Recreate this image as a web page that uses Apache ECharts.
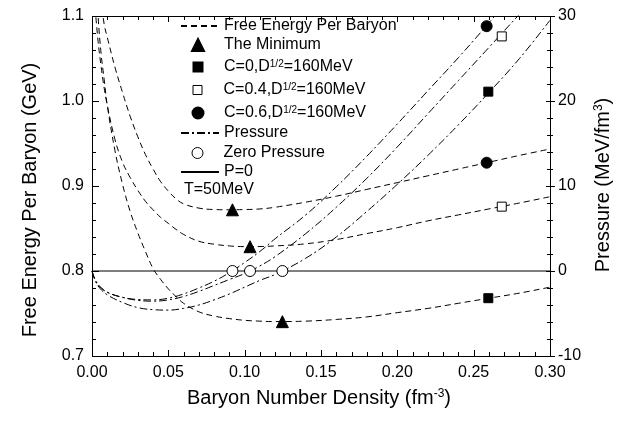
<!DOCTYPE html>
<html>
<head>
<meta charset="utf-8">
<script src="https://cdn.jsdelivr.net/npm/echarts@6/dist/echarts.min.js"></script>
<style>
  html, body { margin: 0; padding: 0; background: #fff; }
  #chart { width: 633px; height: 423px; }
</style>
</head>
<body>
<div id="chart"></div>
<script>
// Baryon density grid (fm^-3) for the free-energy curves
const energyDensity = [0.002, 0.004, 0.006, 0.008, 0.01, 0.015, 0.02, 0.025, 0.03, 0.035,
  0.04, 0.045, 0.05, 0.055, 0.06, 0.07, 0.08, 0.09, 0.10, 0.11,
  0.12, 0.14, 0.16, 0.18, 0.20, 0.22, 0.24, 0.26, 0.28, 0.30];

// Free energy per baryon (GeV)
const energyC0 = [1.18, 1.10, 1.055, 1.025, 0.995, 0.942, 0.902, 0.870, 0.845, 0.823,
  0.803, 0.790, 0.779, 0.770, 0.762, 0.752, 0.747, 0.744, 0.742, 0.741,
  0.7405, 0.741, 0.743, 0.746, 0.751, 0.756, 0.762, 0.768, 0.774, 0.781];
const energyC04 = [1.11, 1.07, 1.04, 1.015, 0.995, 0.955, 0.928, 0.910, 0.895, 0.882,
  0.872, 0.863, 0.856, 0.849, 0.843, 0.835, 0.8315, 0.8295, 0.8287, 0.8288,
  0.8295, 0.832, 0.837, 0.844, 0.851, 0.859, 0.866, 0.873, 0.880, 0.8874];
const energyC06 = [1.25, 1.16, 1.12, 1.09, 1.075, 1.04, 1.01, 0.982, 0.958, 0.937,
  0.920, 0.905, 0.894, 0.885, 0.879, 0.874, 0.8723, 0.872, 0.8723, 0.873,
  0.875, 0.881, 0.888, 0.896, 0.904, 0.912, 0.920, 0.928, 0.936, 0.9435];

// Baryon density grid (fm^-3) for the pressure curves
const pressureDensity = [0, 0.002, 0.005, 0.01, 0.02, 0.03, 0.04, 0.05, 0.06, 0.07,
  0.08, 0.09, 0.10, 0.11, 0.12, 0.14, 0.16, 0.18, 0.20, 0.22, 0.24, 0.26, 0.28, 0.30];

// Pressure (MeV/fm^3)
const pressureC0 = [0, -1.1, -2.0, -2.8, -3.7, -4.3, -4.55, -4.6, -4.4, -4.0,
  -3.4, -2.7, -1.9, -1.1, -0.4, 1.5, 4.0, 7.0, 10.2, 13.6, 17.2, 21.0, 25.0, 29.5];
const pressureC04 = [0, -1.0, -1.8, -2.5, -3.1, -3.45, -3.55, -3.4, -3.0, -2.4,
  -1.7, -1.0, -0.3, 0.6, 1.7, 4.4, 7.5, 10.9, 14.6, 18.5, 22.4, 26.3, 30.2, 34.0];
const pressureC06 = [0, -1.0, -1.8, -2.5, -3.1, -3.35, -3.4, -3.2, -2.7, -2.0,
  -1.2, -0.2, 1.0, 2.3, 3.8, 6.6, 9.9, 13.5, 17.3, 21.2, 25.1, 29.2, 33.5, 38.0];

// Minimum of each free-energy curve (same densities as the zero-pressure points)
const minimumDensity = [0.092, 0.1035, 0.1247];
const minimumEnergy = [0.872, 0.8286, 0.7404];
const zeroPressure = [0, 0, 0];

// Curve labels placed at high density: [density, energy, pressure]
const labelC0 = [0.2596, 0.768, 21.1];
const labelC04 = [0.2684, 0.8757, 27.6];
const labelC06 = [0.2585, 0.9274, 28.8];

// Axis ranges and tick spacing (major step, minor divisions)
const densityRange = [0, 0.30];
const energyRange = [0.7, 1.1];
const pressureRange = [-10, 30];
const densityStep = 0.05;
const energyStep = 0.1;
const pressureStep = 10;
const minorDivisions = 5;

const names = {
  energy: 'Free Energy Per Baryon',
  minimum: 'The Minimum',
  c0: 'C=0,D1/2=160MeV',
  c04: 'C=0.4,D1/2=160MeV',
  c06: 'C=0.6,D1/2=160MeV',
  pressure: 'Pressure',
  zero: 'Zero Pressure',
  p0: 'P=0'
};

const FONT = '"Liberation Sans", Arial, Helvetica, sans-serif';
const BLACK = '#000';
const DASH = [6, 4];
const DASH_DOT = [8, 3, 2, 3];

const zip = (xs, ys) => xs.map((x, i) => [x, ys[i]]);

// Tick positions along an axis: [value, isMajor]
function tickValues(range, step) {
  const minor = step / minorDivisions;
  const count = Math.round((range[1] - range[0]) / minor);
  const out = [];
  for (let i = 0; i <= count; i++) {
    out.push([+(range[0] + i * minor).toFixed(6), i % minorDivisions === 0 ? 1 : 0]);
  }
  return out;
}

function energyLine(values) {
  return {
    name: names.energy, type: 'line', yAxisIndex: 0, data: zip(energyDensity, values),
    symbol: 'none', smooth: 0.4, clip: true,
    lineStyle: { color: BLACK, width: 1, type: DASH }, itemStyle: { color: BLACK }, z: 3
  };
}
function pressureLine(values) {
  return {
    name: names.pressure, type: 'line', yAxisIndex: 1, data: zip(pressureDensity, values),
    symbol: 'none', smooth: 0.4, clip: true,
    lineStyle: { color: BLACK, width: 1, type: DASH_DOT }, itemStyle: { color: BLACK }, z: 3
  };
}
function marker(name, axis, points, symbol, size, filled) {
  return {
    name, type: 'scatter', yAxisIndex: axis, data: points, symbol, symbolSize: size,
    itemStyle: { color: filled ? BLACK : '#fff', borderColor: BLACK, borderWidth: 1, opacity: 1 }, z: 5
  };
}

const crisp = (v) => Math.round(v) + 0.5;
const tickLine = (x1, y1, x2, y2) => ({
  type: 'line', shape: { x1, y1, x2, y2 }, style: { stroke: BLACK, lineWidth: 1 }
});

// Frame around the plot area
const frameSeries = {
  type: 'custom', coordinateSystem: 'cartesian2d', yAxisIndex: 0, silent: true, clip: false, z: 6,
  data: [[densityRange[0], energyRange[0]]],
  renderItem: (params, api) => {
    const a = api.coord([densityRange[0], energyRange[1]]);
    const b = api.coord([densityRange[1], energyRange[0]]);
    return {
      type: 'rect',
      shape: { x: crisp(a[0]), y: crisp(a[1]), width: Math.round(b[0] - a[0]), height: Math.round(b[1] - a[1]) },
      style: { fill: 'none', stroke: BLACK, lineWidth: 1 }
    };
  }
};

// Density ticks on bottom and top edges (pointing into the plot)
const densityTickSeries = {
  type: 'custom', coordinateSystem: 'cartesian2d', yAxisIndex: 0, silent: true, clip: false, z: 6,
  data: tickValues(densityRange, densityStep).map((t) => [t[0], energyRange[0], t[1]]),
  renderItem: (params, api) => {
    const v = api.value(0);
    const len = api.value(2) ? 6 : 4;
    const b = api.coord([v, energyRange[0]]);
    const t = api.coord([v, energyRange[1]]);
    const x = crisp(b[0]);
    return { type: 'group', children: [
      tickLine(x, Math.round(b[1]), x, Math.round(b[1]) - len),
      tickLine(x, Math.round(t[1]), x, Math.round(t[1]) + len)
    ] };
  }
};

// Energy ticks on the left edge (pointing into the plot)
const energyTickSeries = {
  type: 'custom', coordinateSystem: 'cartesian2d', yAxisIndex: 0, silent: true, clip: false, z: 6,
  data: tickValues(energyRange, energyStep).map((t) => [densityRange[0], t[0], t[1]]),
  renderItem: (params, api) => {
    const v = api.value(1);
    const len = api.value(2) ? 7 : 4;
    const p = api.coord([densityRange[0], v]);
    const y = crisp(p[1]);
    return tickLine(Math.round(p[0]), y, Math.round(p[0]) + len, y);
  }
};

// Pressure ticks on the right edge (crossing the axis line)
const pressureTickSeries = {
  type: 'custom', coordinateSystem: 'cartesian2d', yAxisIndex: 1, silent: true, clip: false, z: 6,
  data: tickValues(pressureRange, pressureStep).map((t) => [densityRange[1], t[0], t[1]]),
  renderItem: (params, api) => {
    const v = api.value(1);
    const major = api.value(2);
    const p = api.coord([densityRange[1], v]);
    const y = crisp(p[1]);
    const x = Math.round(p[0]);
    return tickLine(x - (major ? 4 : 3), y, x + (major ? 5 : 3), y);
  }
};

const labelStyle = () => ({ fontSize: 16, color: BLACK, fontFamily: FONT });
const supStyle = (size) => ({ fontSize: size, verticalAlign: 'top', lineHeight: size, fontFamily: FONT, fill: BLACK, color: BLACK });

// One legend block per row so each row gets its own icon size
const legendRows = [
  { name: names.energy, center: 26, kind: 'line' },
  { name: names.minimum, center: 45, kind: 'mark', size: 12 },
  { name: names.c0, center: 67, kind: 'mark', size: 9 },
  { name: names.c04, center: 90, kind: 'mark', size: 9, hollow: true },
  { name: names.c06, center: 113, kind: 'mark', size: 11 },
  { name: names.pressure, center: 133, kind: 'line' },
  { name: names.zero, center: 153, kind: 'mark', size: 11, hollow: true },
  { name: names.p0, center: 172, kind: 'line' }
];
function legendFor(row) {
  const isLine = row.kind === 'line';
  const w = isLine ? 38 : row.size;
  const h = isLine ? 10 : row.size;
  const left = isLine ? 180 : 197 - row.size / 2;
  const textStart = 223;
  const item = { name: row.name };
  if (isLine) item.itemStyle = { opacity: 0 };
  else if (row.hollow) item.itemStyle = { color: '#fff', borderColor: BLACK, borderWidth: 1 };
  return {
    orient: 'vertical', left: left, top: row.center - 8, padding: 0,
    itemWidth: w, itemHeight: h, selectedMode: false,
    textStyle: {
      fontSize: 16, lineHeight: 16, color: BLACK, fontFamily: FONT,
      padding: [0, 0, 0, textStart - (left + w + 5)],
      rich: { sup: supStyle(10) }
    },
    formatter: (n) => n.replace('D1/2', 'D{sup|1/2}'),
    data: [item]
  };
}

// Axis titles as free text
function axisTitle(text, x, y, rotated) {
  return {
    type: 'text', x: x, y: y, rotation: rotated ? Math.PI / 2 : 0, silent: true,
    style: {
      text: text, fontSize: 20, fontFamily: FONT, fill: BLACK,
      align: 'center', verticalAlign: 'middle',
      rich: { sup: supStyle(12) }
    }
  };
}

const hiddenFrame = {
  axisLine: { show: false }, axisTick: { show: false },
  splitLine: { show: false }, minorTick: { show: false }, minorSplitLine: { show: false }
};

const option = {
  animation: false,
  grid: { left: 92, right: 83, top: 16, bottom: 67, containLabel: false },
  title: {
    text: 'T=50MeV', left: 184, top: 182, padding: 0,
    textStyle: { fontSize: 16, fontWeight: 'normal', color: BLACK, fontFamily: FONT }
  },
  legend: legendRows.map(legendFor),
  graphic: [
    axisTitle('Baryon Number Density (fm{sup|-3})', 319, 398, false),
    axisTitle('Free Energy Per Baryon (GeV)', 30, 200, true),
    axisTitle('Pressure (MeV/fm{sup|3})', 603, 185, true)
  ],
  xAxis: [
    Object.assign({}, hiddenFrame, {
      type: 'value', position: 'bottom', min: densityRange[0], max: densityRange[1], interval: densityStep,
      axisLabel: Object.assign(labelStyle(), { formatter: (v) => v.toFixed(2), margin: 9 })
    })
  ],
  yAxis: [
    Object.assign({}, hiddenFrame, {
      type: 'value', position: 'left', min: energyRange[0], max: energyRange[1], interval: energyStep,
      axisLabel: Object.assign(labelStyle(), { formatter: (v) => v.toFixed(1), margin: 8 })
    }),
    Object.assign({}, hiddenFrame, {
      type: 'value', position: 'right', min: pressureRange[0], max: pressureRange[1], interval: pressureStep,
      axisLabel: Object.assign(labelStyle(), { margin: 8 })
    })
  ],
  series: [
    energyLine(energyC0),
    energyLine(energyC04),
    energyLine(energyC06),
    pressureLine(pressureC0),
    pressureLine(pressureC04),
    pressureLine(pressureC06),
    {
      name: names.p0, type: 'line', yAxisIndex: 1, symbol: 'none',
      data: [[densityRange[0], 0], [densityRange[1], 0]],
      lineStyle: { color: BLACK, width: 1, type: 'solid' }, itemStyle: { color: BLACK }, z: 2
    },
    marker(names.minimum, 0, zip(minimumDensity, minimumEnergy), 'triangle', 12, true),
    marker(names.zero, 1, zip(minimumDensity, zeroPressure), 'circle', 11, false),
    marker(names.c0, 0, [[labelC0[0], labelC0[1]]], 'rect', 9, true),
    marker(names.c0, 1, [[labelC0[0], labelC0[2]]], 'rect', 9, true),
    marker(names.c04, 0, [[labelC04[0], labelC04[1]]], 'rect', 9, false),
    marker(names.c04, 1, [[labelC04[0], labelC04[2]]], 'rect', 9, false),
    marker(names.c06, 0, [[labelC06[0], labelC06[1]]], 'circle', 11, true),
    marker(names.c06, 1, [[labelC06[0], labelC06[2]]], 'circle', 11, true),
    frameSeries,
    densityTickSeries,
    energyTickSeries,
    pressureTickSeries
  ]
};

const chart = echarts.init(document.getElementById('chart'), null, { renderer: 'canvas' });
chart.setOption(option);
</script>
</body>
</html>
